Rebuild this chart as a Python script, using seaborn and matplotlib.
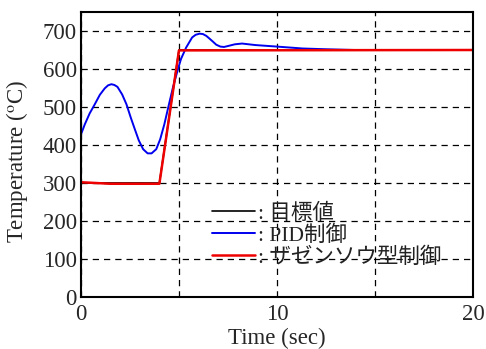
import numpy as np
import pandas as pd
import matplotlib
matplotlib.use("Agg")
import matplotlib.pyplot as plt
import seaborn as sns

# ---- data ----
target_t = [0, 4.0, 5.0, 20]
target_v = [300, 300, 650, 650]

pid_t = [0, 0.19, 0.44, 0.70, 0.96, 1.21, 1.38, 1.55, 1.70, 1.86, 2.10, 2.32, 2.54,
         2.75, 2.95, 3.17, 3.40, 3.60, 3.84, 4.04, 4.25, 4.47, 4.69, 4.90, 5.10,
         5.36, 5.67, 5.85, 6.05, 6.22, 6.40, 6.69, 6.90, 7.11, 7.30, 7.54, 7.85,
         8.22, 8.9, 10.0, 11.3, 12.5, 14.0, 20.0]
pid_v = [428, 454, 483, 507, 532, 549, 557, 560, 558, 553, 533, 507, 472,
         441, 412, 389, 378, 378, 389, 415, 454, 503, 551, 591, 626,
         656, 683, 690, 693, 692, 687, 674, 664, 659, 658, 661, 665,
         667, 663, 659, 654, 652, 650, 650]

zaz_t = [0, 1.5, 4.0, 5.0, 20]
zaz_v = [302, 298, 298, 649, 650]

labels = [": 目標値", ": PID制御", ": ザゼンソウ型制御"]
x_ticks = [0, 5, 10, 15, 20]
x_ticklabels = ["0", "", "10", "", "20"]
y_ticks = [0, 100, 200, 300, 400, 500, 600, 700]

sns.set_style("white")
plt.rcParams['font.family'] = ['Liberation Serif', 'Noto Sans CJK JP']
plt.rcParams['mathtext.fontset'] = 'stix'

fig = plt.figure(figsize=(4.86, 3.49), dpi=100)
ax = fig.add_axes([0.1667, 0.149, 0.973 - 0.1667, 0.9656 - 0.149])

sns.lineplot(x=target_t, y=target_v, ax=ax, color="black", lw=1.2, label=labels[0])
sns.lineplot(x=pid_t, y=pid_v, ax=ax, color="#0000ee", lw=1.4, label=labels[1])
sns.lineplot(x=zaz_t, y=zaz_v, ax=ax, color="#ee0000", lw=1.8, label=labels[2])

ax.set_xlim(0, 20)
ax.set_ylim(0, 750)
ax.set_xticks(x_ticks)
ax.set_xticklabels(x_ticklabels)
ax.set_yticks(y_ticks)
ax.tick_params(length=0, labelsize=16.5)
ax.tick_params(axis="x", pad=5)
ax.tick_params(axis="y", pad=3)
ax.grid(True, color="black", linestyle=(0, (5, 4)), linewidth=0.9)
ax.set_axisbelow(True)
for s in ax.spines.values():
    s.set_color("black")
    s.set_linewidth(1.5)

ax.set_xlabel("Time (sec)", fontsize=16.5)
ax.set_ylabel("Temperature ($^{\\rm o}$C)", fontsize=16.5)
ax.xaxis.set_label_coords(0.5, -0.108)
ax.yaxis.set_label_coords(-0.130, 0.475)

leg = ax.legend(loc="center left", bbox_to_anchor=(0.334, 0.215), frameon=False,
                fontsize=15.5, handlelength=2.0, handletextpad=0.15,
                labelspacing=0.08, borderpad=0, borderaxespad=0)
for t in leg.get_texts():
    t.set_color("#222222")

fig.savefig("out.png", dpi=100)
